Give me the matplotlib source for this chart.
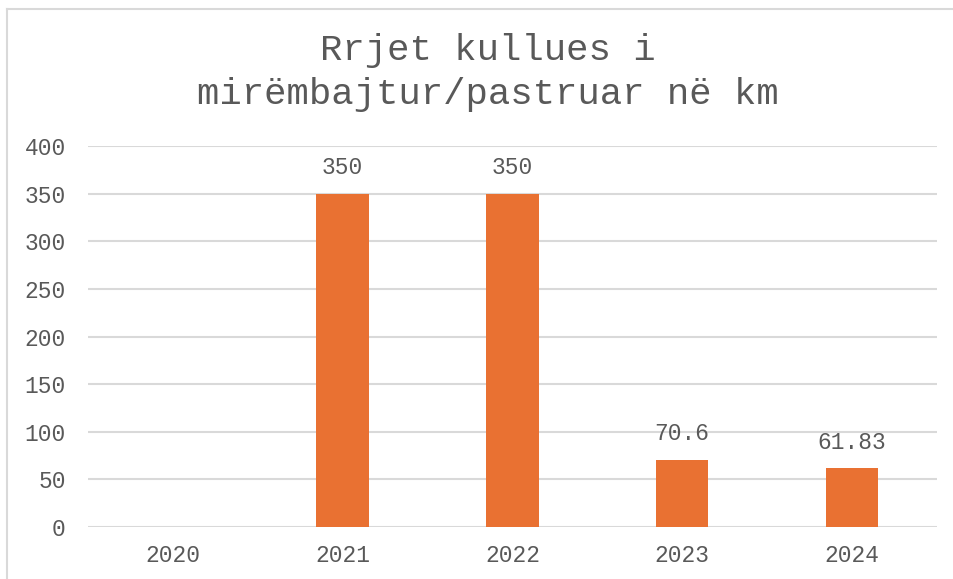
import numpy as np
import matplotlib.pyplot as plt
from matplotlib.lines import Line2D

plt.rcParams['font.family'] = ['Liberation Mono', 'DejaVu Sans Mono']

years = ["2020", "2021", "2022", "2023", "2024"]
values = [np.nan, 350, 350, 70.6, 61.83]
labels = ["", "350", "350", "70.6", "61.83"]
yticks = [0, 50, 100, 150, 200, 250, 300, 350, 400]
title_lines = ["Rrjet kullues i", "mirëmbajtur/pastruar në km"]

text_color = "#595959"
grid_color = "#d9d9d9"
bar_color = "#E97132"

fig = plt.figure(figsize=(9.54, 5.79), dpi=100)
ax = fig.add_axes([0.0922, 0.0898, 0.8898, 0.658])

x = np.arange(len(years))
bars = ax.bar(x, values, width=0.31, color=bar_color, zorder=3)
for b, lab in zip(bars, labels):
    if lab:
        ax.annotate(lab, (b.get_x() + b.get_width() / 2, b.get_height()),
                    xytext=(0, 10.5), textcoords="offset points",
                    ha="center", va="bottom", fontsize=16.5, color=text_color)

ax.set_xlim(-0.5, len(years) - 0.5)
ax.set_ylim(0, 400)
ax.set_yticks(yticks)
ax.set_xticks(x)
ax.set_xticklabels(years)
ax.tick_params(axis="both", length=0, labelsize=16.5, labelcolor=text_color)
ax.tick_params(axis="y", pad=16)
ax.tick_params(axis="x", pad=12)
ax.grid(axis="y", color=grid_color, linewidth=1.5, zorder=0)
for s in ax.spines.values():
    s.set_visible(False)

fig.text(0.511, 0.913, title_lines[0], ha="center", va="center",
         fontsize=26.8, color=text_color)
fig.text(0.511, 0.836, title_lines[1], ha="center", va="center",
         fontsize=26.8, color=text_color)

# outer chart border (top and left only visible)
fig.add_artist(Line2D([7 / 954, 1], [1 - 8.5 / 579, 1 - 8.5 / 579],
                      transform=fig.transFigure, color=grid_color, linewidth=1.5))
fig.add_artist(Line2D([7 / 954, 7 / 954], [0, 1 - 8.5 / 579],
                      transform=fig.transFigure, color=grid_color, linewidth=1.5))

fig.savefig("out.png", dpi=100)
